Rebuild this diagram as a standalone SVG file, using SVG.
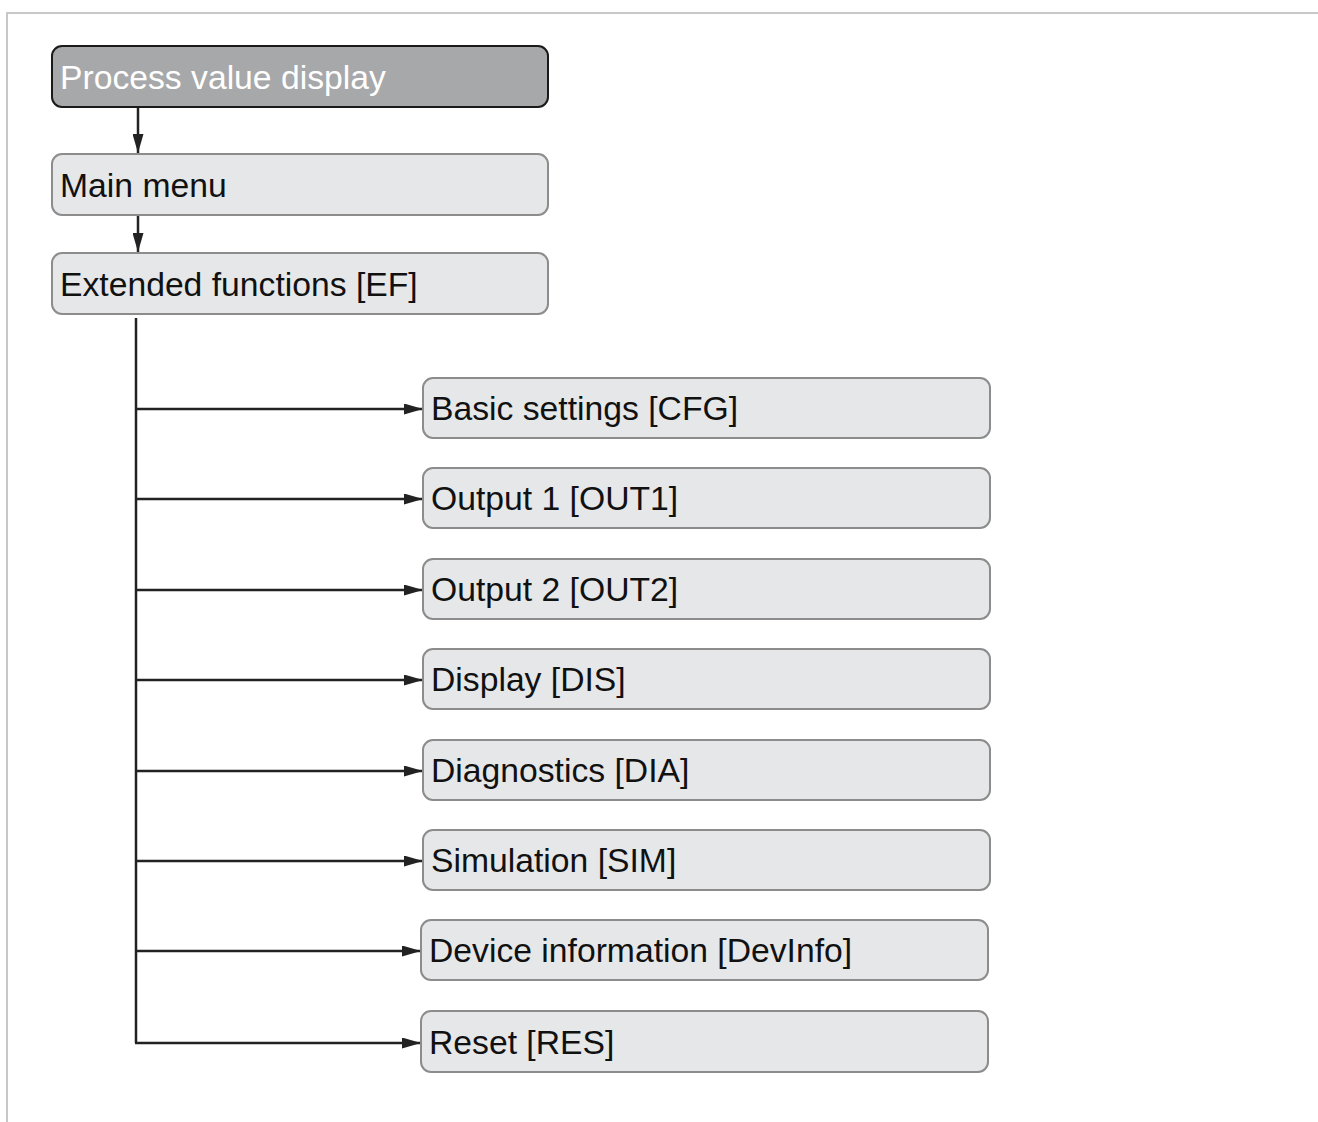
<svg xmlns="http://www.w3.org/2000/svg" width="1318" height="1122" viewBox="0 0 1318 1122">
<defs>
<style>
.frame{stroke:#c8c8c8;stroke-width:2;fill:none}
.box{fill:#e6e7e8;stroke:#8c8c8c;stroke-width:2}
.dark{fill:#a7a8aa;stroke:#1a1a1a;stroke-width:2}
.t{font-family:"Liberation Sans",Arial,sans-serif;font-size:33.7px;fill:#111}
.tw{font-family:"Liberation Sans",Arial,sans-serif;font-size:33.7px;fill:#ffffff}
.c{stroke:#222;stroke-width:2.5;fill:none}
</style>
<marker id="ah" markerWidth="19" markerHeight="11" refX="19" refY="5.5" orient="auto" markerUnits="userSpaceOnUse">
<path d="M0,0 L19,5.5 L0,11 Z" fill="#222"/>
</marker>
</defs>
<rect width="1318" height="1122" fill="#ffffff"/>
<path class="frame" d="M7,1122 V13 H1318"/>
<g id="connectors">
<line class="c" x1="138" y1="107" x2="138" y2="153" marker-end="url(#ah)"/>
<line class="c" x1="138" y1="215" x2="138" y2="252" marker-end="url(#ah)"/>
<path class="c" d="M136,318 V1043"/>
<line class="c" x1="135" y1="409" x2="423" y2="409" marker-end="url(#ah)"/>
<line class="c" x1="135" y1="499" x2="423" y2="499" marker-end="url(#ah)"/>
<line class="c" x1="135" y1="590" x2="423" y2="590" marker-end="url(#ah)"/>
<line class="c" x1="135" y1="680" x2="423" y2="680" marker-end="url(#ah)"/>
<line class="c" x1="135" y1="771" x2="423" y2="771" marker-end="url(#ah)"/>
<line class="c" x1="135" y1="861" x2="423" y2="861" marker-end="url(#ah)"/>
<line class="c" x1="135" y1="951" x2="421" y2="951" marker-end="url(#ah)"/>
<line class="c" x1="135" y1="1043" x2="421" y2="1043" marker-end="url(#ah)"/>
</g>
<g id="n-pvd"><rect class="dark" x="52" y="46" width="496" height="61" rx="10"/><text class="tw" x="60" y="89">Process value display</text></g>
<g id="n-main"><rect class="box" x="52" y="154" width="496" height="61" rx="10"/><text class="t" x="60" y="197">Main menu</text></g>
<g id="n-ef"><rect class="box" x="52" y="253" width="496" height="61" rx="10"/><text class="t" x="60" y="296">Extended functions [EF]</text></g>
<g id="n-cfg"><rect class="box" x="423" y="378" width="567" height="60" rx="10"/><text class="t" x="431" y="420">Basic settings [CFG]</text></g>
<g id="n-out1"><rect class="box" x="423" y="468" width="567" height="60" rx="10"/><text class="t" x="431" y="510">Output 1 [OUT1]</text></g>
<g id="n-out2"><rect class="box" x="423" y="559" width="567" height="60" rx="10"/><text class="t" x="431" y="601">Output 2 [OUT2]</text></g>
<g id="n-dis"><rect class="box" x="423" y="649" width="567" height="60" rx="10"/><text class="t" x="431" y="691">Display [DIS]</text></g>
<g id="n-dia"><rect class="box" x="423" y="740" width="567" height="60" rx="10"/><text class="t" x="431" y="782">Diagnostics [DIA]</text></g>
<g id="n-sim"><rect class="box" x="423" y="830" width="567" height="60" rx="10"/><text class="t" x="431" y="872">Simulation [SIM]</text></g>
<g id="n-devinfo"><rect class="box" x="421" y="920" width="567" height="60" rx="10"/><text class="t" x="429" y="962">Device information [DevInfo]</text></g>
<g id="n-res"><rect class="box" x="421" y="1011" width="567" height="61" rx="10"/><text class="t" x="429" y="1054">Reset [RES]</text></g>
</svg>
